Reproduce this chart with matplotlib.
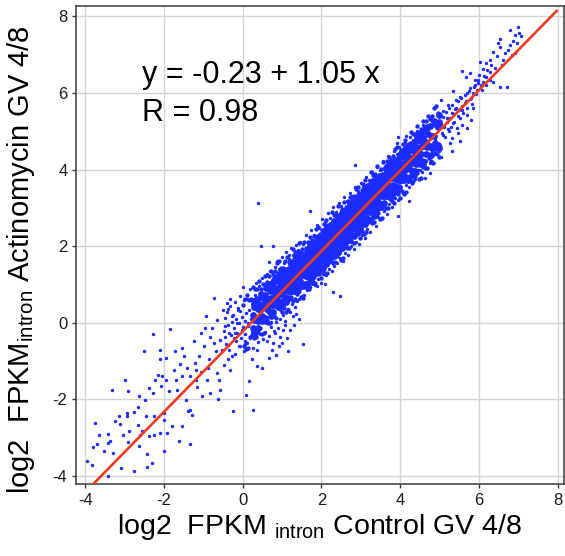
import matplotlib
matplotlib.use("Agg")
import matplotlib.pyplot as plt
import numpy as np

# ---- data ----

# sparse lower tail
tail_x = [-3.96,-3.83,-3.75,-3.66,-3.81,-3.70,-3.42,-3.41,-3.36,-3.51,
	-3.30,-3.32,-3.41,-3.09,-3.24,-3.11,-3.14,-2.94,-2.93,-2.98,
	-2.92,-3.03,-2.92,-2.88,-2.77,-2.75,-2.63,-2.65,-2.65,-2.60,
	-2.62,-2.55,-2.50,-2.46,-2.48,-2.42,-2.44,-2.39,-2.37,-2.31,
	-2.27,-2.28,-2.25,-2.26,-2.22,-2.14,-2.09,-2.09,-2.07,-2.04,
	-2.10,-1.99,-2.00,-1.99,-1.95,-1.95,-1.92,-1.84,-1.87,-1.80,
	-1.75,-1.72,-1.70,-1.61,-1.66,-1.58,-1.55,-1.53,-1.53,-1.50,
	-1.45,-1.41,-1.38,-1.34,-1.33,-1.33,-1.29,-1.24,-1.22,-1.19,
	-1.19,-1.16,-1.12,-1.07,-1.06,-1.02,-0.99,-0.95,-0.94,-0.90,
	-0.87,-0.85,-0.82,-0.82,-0.79,-0.73,-0.72,-0.68,-0.65,-0.65,
	-0.62,-0.60,-0.58,-0.57,-0.53,-0.51,-0.48,-0.45,-0.40,-0.38,
	-0.36,-0.34,-0.31,-0.28,-0.24,-0.21,-0.19,-0.14,-0.11,-0.06,
	-0.02,0.03,0.06,0.08,0.15,0.27,0.36,0.48,0.74,0.99,
	0.82,1.03]
tail_y = [-3.62,-3.71,-2.62,-2.92,-3.25,-3.18,-2.90,-3.14,-3.09,-3.36,
	-3.40,-1.77,-4.01,-3.79,-2.57,-2.64,-2.44,-2.36,-2.44,-1.49,
	-1.79,-2.92,-3.12,-2.84,-2.34,-3.88,-1.92,-2.20,-2.66,-2.92,
	-3.23,-2.84,-0.73,-2.43,-2.01,-3.44,-3.77,-1.70,-2.97,-3.66,
	-0.29,-1.83,-2.44,-2.93,-1.49,-1.36,-0.70,-0.96,-1.66,-1.40,
	-2.88,-3.36,-2.36,-2.53,-0.93,-1.49,-2.88,-0.16,-1.79,-2.70,
	-1.23,-0.75,-1.49,-3.10,-1.75,-1.09,-1.40,-0.66,-2.70,-0.88,
	-2.03,-1.18,-2.31,-3.18,-1.40,-2.27,-2.40,-0.49,-1.05,-1.24,
	-1.49,-1.68,-0.88,-0.27,-1.28,-1.92,-0.62,-0.14,0.17,-1.49,
	-1.18,-0.96,-0.37,-1.83,-0.15,0.65,-0.53,-0.75,0.08,-1.31,
	-1.99,-1.49,-1.75,-0.44,-0.70,0.34,-1.10,-0.09,0.52,-0.58,
	-0.96,-0.27,-1.23,0.17,-2.31,-0.40,-0.83,0.00,0.34,-0.62,
	-0.18,0.60,-0.49,-1.89,-1.53,-2.27,-1.14,-1.18,-0.70,-0.53,
	-0.27,-0.18]

# scattered points around the band
halo_pts = [
	(-0.48,-0.21),(-0.45,0.12),(-0.42,-0.55),(-0.40,0.28),(-0.37,-0.05),(-0.35,-0.71),(-0.33,0.44),
	(-0.30,-0.33),(-0.28,0.02),(-0.26,-0.88),(-0.24,0.21),(-0.22,-0.15),(-0.20,0.55),(-0.18,-0.47),
	(-0.16,0.09),(-0.14,-0.26),(-0.12,0.38),(-0.10,-0.62),(-0.08,-0.02),(-0.06,0.71),(-0.04,-0.39),
	(-0.02,0.15),(0.00,-0.12),(0.02,0.46),(0.04,-0.75),(0.05,0.05),(0.07,-0.30),(0.09,0.26),
	(0.11,-0.52),(0.12,0.62),(0.14,-0.08),(0.16,0.33),(0.18,-0.41),(0.19,0.88),(0.21,0.11),
	(0.23,-0.23),(0.25,0.49),(0.27,-0.66),(0.29,0.18),(0.31,0.72),(-0.46,-0.38),(-0.31,0.61),
	(-0.19,-0.27),(-0.07,0.30),(0.06,-0.55),(0.13,0.00),(0.24,-0.94),(0.33,-0.35),(-0.38,0.36),(0.01,0.92),
	(0.34,1.05),(0.38,-0.51),(0.42,0.95),(0.45,-0.30),(0.48,1.18),(0.52,-0.42),(0.55,1.02),
	(0.58,-0.24),(0.61,1.27),(0.63,0.88),(0.66,-0.35),(0.69,1.36),(0.72,-0.11),(0.75,1.12),
	(0.78,-0.52),(0.81,1.45),(0.84,0.02),(0.87,1.61),(0.90,-0.13),(0.93,1.40),(0.96,0.09),
	(0.99,1.72),(1.02,0.21),(1.05,1.55),(1.08,-0.05),(1.11,1.84),(1.14,0.36),(1.17,1.66),
	(1.20,0.27),(1.23,1.95),(1.26,0.48),(1.29,1.78),(1.32,0.40),(1.35,2.03),(1.38,0.57),
	(1.41,1.90),(1.44,0.62),(1.47,2.12),(1.50,0.71),(0.44,0.62),(0.57,0.72),(0.71,0.02),
	(0.88,0.38),(1.04,1.30),(1.19,1.78),(1.33,1.72),(0.36,-0.72),(0.67,1.58),(0.95,-0.36),(1.27,0.18),
	(1.53,2.05),(1.56,0.72),(1.60,2.30),(1.63,0.85),(1.67,2.12),(1.70,0.93),(1.74,2.41),(1.77,1.02),
	(1.81,2.28),(1.84,0.98),(1.88,2.55),(1.91,1.15),(1.95,2.47),(1.98,1.05),(2.02,2.72),(2.05,1.28),
	(2.09,2.63),(2.12,1.25),(2.16,2.86),(2.19,1.40),(2.23,2.74),(2.26,1.35),(2.30,3.02),(2.33,1.48),
	(2.37,2.88),(2.40,1.55),(2.44,3.12),(2.47,1.70),(2.51,3.05),(2.54,1.62),(2.58,3.28),(2.61,1.83),
	(2.65,3.18),(2.68,1.78),(2.72,3.40),(2.75,2.01),(2.79,3.31),(2.82,1.92),(2.86,3.55),(2.89,2.12),
	(2.93,3.44),(2.96,2.05),(3.00,3.66),(3.03,2.30),(3.07,3.55),(3.10,2.20),(3.14,3.80),(3.17,2.45),
	(3.21,3.72),(3.24,2.38),(3.28,3.95),(3.31,2.60),(3.35,3.85),(3.38,2.52),(3.42,4.08),(3.45,2.75),
	(3.49,3.98),(3.52,2.70),(3.56,4.22),(3.59,2.93),(3.63,4.12),(3.66,2.85),(3.70,4.35),(3.73,3.10),
	(3.77,4.26),(3.80,3.02),(3.84,4.48),(3.87,3.26),(3.91,4.40),(3.94,3.20),(3.98,4.60),(4.01,3.43),
	(4.05,4.52),(4.08,3.38),(4.12,4.72),(4.15,3.60),(4.19,4.66),(4.22,3.55),(4.26,4.86),(4.30,3.80),
	(4.34,4.78),(4.38,3.75),(4.42,4.98),(4.46,4.00),(4.50,4.93),(4.55,3.95),(4.60,5.12),(4.65,4.22),
	(4.70,5.05),(4.75,4.18),(4.80,5.28),(4.85,4.40),(4.92,5.20),(4.98,4.48),
	(0.40,3.14),(0.46,2.00),(0.76,2.00),(1.71,2.93),(2.85,4.11),(3.94,4.84),(4.22,3.17),(3.94,2.78),
	(1.525,-0.55),(1.16,-0.75),(0.68,-0.93),(2.48,0.69),(2.30,0.81),(0.62,-0.48),(0.79,-0.21),
	(0.93,-0.62),(1.07,0.05),(1.21,-0.18),(1.35,0.22),(1.12,-0.40),(0.85,-0.85),(1.42,0.10),
	(1.30,-0.05),(1.90,0.95),(2.10,1.00),
]

# points on both edges of the dense band
shoulder_pts = [
	(0.02,0.46),(0.07,0.62),(0.04,-0.60),(0.09,-0.69),
	(0.12,0.73),(0.17,0.60),(0.14,-0.65),(0.19,-0.37),
	(0.22,0.62),(0.27,0.94),(0.24,-0.32),(0.29,-0.40),
	(0.32,0.87),(0.37,0.88),(0.34,-0.37),(0.39,-0.23),
	(0.42,1.09),(0.47,0.87),(0.44,-0.14),(0.49,-0.30),
	(0.52,1.02),(0.57,1.21),(0.54,-0.27),(0.59,0.03),
	(0.62,1.06),(0.67,1.22),(0.64,0.00),(0.69,-0.01),
	(0.72,1.34),(0.77,1.26),(0.74,0.24),(0.79,0.17),
	(0.82,1.36),(0.87,1.55),(0.84,0.13),(0.89,0.38),
	(0.92,1.60),(0.97,1.42),(0.94,0.37),(0.99,0.27),
	(1.02,1.44),(1.07,1.60),(1.04,0.38),(1.09,0.29),
	(1.12,1.71),(1.17,1.58),(1.14,0.34),(1.19,0.62),
	(1.22,1.60),(1.27,1.92),(1.24,0.66),(1.29,0.58),
	(1.32,1.85),(1.37,1.86),(1.34,0.62),(1.39,0.76),
	(1.42,2.07),(1.47,1.85),(1.44,0.84),(1.49,0.68),
	(1.52,1.92),(1.57,2.11),(1.54,0.64),(1.59,0.93),
	(1.62,1.96),(1.67,2.12),(1.64,0.90),(1.69,0.89),
	(1.72,2.24),(1.77,2.16),(1.74,1.14),(1.79,1.07),
	(1.82,2.26),(1.87,2.45),(1.84,1.03),(1.89,1.28),
	(1.92,2.50),(1.97,2.32),(1.94,1.27),(1.99,1.17),
	(2.02,2.41),(2.07,2.57),(2.04,1.35),(2.09,1.26),
	(2.12,2.68),(2.17,2.55),(2.14,1.31),(2.19,1.59),
	(2.22,2.57),(2.27,2.89),(2.24,1.63),(2.29,1.55),
	(2.32,2.82),(2.37,2.83),(2.34,1.59),(2.39,1.73),
	(2.42,3.04),(2.47,2.82),(2.44,1.81),(2.49,1.65),
	(2.52,2.97),(2.57,3.16),(2.54,1.69),(2.59,1.98),
	(2.62,3.01),(2.67,3.17),(2.64,1.95),(2.69,1.94),
	(2.72,3.29),(2.77,3.21),(2.74,2.19),(2.79,2.12),
	(2.82,3.31),(2.87,3.50),(2.84,2.08),(2.89,2.33),
	(2.92,3.55),(2.97,3.37),(2.94,2.32),(2.99,2.22),
	(3.02,3.46),(3.07,3.62),(3.04,2.40),(3.09,2.31),
	(3.12,3.73),(3.17,3.60),(3.14,2.36),(3.19,2.64),
	(3.22,3.62),(3.27,3.94),(3.24,2.68),(3.29,2.60),
	(3.32,3.87),(3.37,3.88),(3.34,2.64),(3.39,2.78),
	(3.42,4.09),(3.47,3.87),(3.44,2.86),(3.49,2.70),
	(3.52,4.02),(3.57,4.21),(3.54,2.74),(3.59,3.03),
	(3.62,4.06),(3.67,4.22),(3.64,3.00),(3.69,2.99),
	(3.72,4.34),(3.77,4.26),(3.74,3.24),(3.79,3.17),
	(3.82,4.36),(3.87,4.55),(3.84,3.13),(3.89,3.38),
	(3.92,4.60),(3.97,4.42),(3.94,3.37),(3.99,3.27),
	(4.02,4.51),(4.07,4.67),(4.04,3.45),(4.09,3.36),
	(4.12,4.78),(4.17,4.65),(4.14,3.41),(4.19,3.69),
	(4.22,4.67),(4.27,4.99),(4.24,3.73),(4.29,3.65),
	(4.32,4.92),(4.37,4.93),(4.34,3.69),(4.39,3.83),
	(4.42,5.14),(4.47,4.92),(4.44,3.91),(4.49,3.75),
	(4.52,5.07),(4.57,5.26),(4.54,3.79),(4.59,4.08),
	(4.62,5.11),(4.67,5.27),(4.64,4.05),(4.69,4.04),
	(4.72,5.39),(4.77,5.31),(4.74,4.29),(4.79,4.22),
	(4.82,5.41),(4.87,5.60),(4.84,4.18),(4.89,4.43),
	(4.92,5.65),(4.97,5.47),(4.94,4.42),(4.99,4.32),
]

# dense core of the cloud, one row per narrow x slice
core_x = [
	0.26,0.27,0.28,0.29,0.30,0.31,
	0.36,0.37,0.38,0.39,0.40,0.41,
	0.46,0.47,0.48,0.49,0.50,0.51,
	0.56,0.57,0.58,0.59,0.60,0.61,
	0.66,0.67,0.68,0.69,0.70,0.71,0.72,0.73,0.74,
	0.76,0.77,0.78,0.79,0.80,0.81,0.82,0.83,0.84,
	0.86,0.87,0.88,0.89,0.90,0.91,0.92,0.93,0.94,
	0.96,0.97,0.98,0.99,1.00,1.01,1.02,1.03,1.04,
	1.06,1.07,1.08,1.09,1.10,1.11,1.12,1.13,1.14,1.15,1.055,1.075,
	1.16,1.17,1.18,1.19,1.20,1.21,1.22,1.23,1.24,1.25,1.155,1.175,
	1.26,1.27,1.28,1.29,1.30,1.31,1.32,1.33,1.34,1.35,1.255,1.275,
	1.36,1.37,1.38,1.39,1.40,1.41,1.42,1.43,1.44,1.45,1.355,1.375,
	1.46,1.47,1.48,1.49,1.50,1.51,1.52,1.53,1.54,1.55,1.455,1.475,
	1.56,1.57,1.58,1.59,1.60,1.61,1.62,1.63,1.64,1.65,1.555,1.575,1.595,1.615,1.625,1.635,
	1.66,1.67,1.68,1.69,1.70,1.71,1.72,1.73,1.74,1.75,1.655,1.675,1.695,1.715,1.725,1.735,
	1.76,1.77,1.78,1.79,1.80,1.81,1.82,1.83,1.84,1.85,1.755,1.775,1.795,1.815,1.825,1.835,
	1.86,1.87,1.88,1.89,1.90,1.91,1.92,1.93,1.94,1.95,1.855,1.875,1.895,1.915,1.925,1.935,
	1.96,1.97,1.98,1.99,2.00,2.01,2.02,2.03,2.04,2.05,1.955,1.975,1.995,2.015,2.025,2.035,
	2.06,2.07,2.08,2.09,2.10,2.11,2.12,2.13,2.14,2.15,2.055,2.075,2.095,2.115,2.125,2.135,
	2.16,2.17,2.18,2.19,2.20,2.21,2.22,2.23,2.24,2.25,2.155,2.175,2.195,2.215,2.225,2.235,
	2.26,2.27,2.28,2.29,2.30,2.31,2.32,2.33,2.34,2.35,2.255,2.275,2.295,2.315,2.325,2.335,
	2.36,2.37,2.38,2.39,2.40,2.41,2.42,2.43,2.44,2.45,2.355,2.375,2.395,2.415,2.425,2.435,
	2.46,2.47,2.48,2.49,2.50,2.51,2.52,2.53,2.54,2.55,2.455,2.475,2.495,2.515,2.525,2.535,
	2.56,2.57,2.58,2.59,2.60,2.61,2.62,2.63,2.64,2.65,2.555,2.575,2.595,2.615,2.625,2.635,
	2.66,2.67,2.68,2.69,2.70,2.71,2.72,2.73,2.74,2.75,2.655,2.675,2.695,2.715,2.725,2.735,
	2.76,2.77,2.78,2.79,2.80,2.81,2.82,2.83,2.84,2.85,2.755,2.775,2.795,2.815,2.825,2.835,
	2.86,2.87,2.88,2.89,2.90,2.91,2.92,2.93,2.94,2.95,2.855,2.875,2.895,2.915,2.925,2.935,
	2.96,2.97,2.98,2.99,3.00,3.01,3.02,3.03,3.04,3.05,2.955,2.975,2.995,3.015,3.025,3.035,
	3.06,3.07,3.08,3.09,3.10,3.11,3.12,3.13,3.14,3.15,3.055,3.075,3.095,3.115,3.125,3.135,
	3.16,3.17,3.18,3.19,3.20,3.21,3.22,3.23,3.24,3.25,3.155,3.175,3.195,3.215,3.225,3.235,
	3.26,3.27,3.28,3.29,3.30,3.31,3.32,3.33,3.34,3.35,3.255,3.275,3.295,3.315,3.325,3.335,
	3.36,3.37,3.38,3.39,3.40,3.41,3.42,3.43,3.44,3.45,3.355,3.375,3.395,3.415,3.425,3.435,
	3.46,3.47,3.48,3.49,3.50,3.51,3.52,3.53,3.54,3.55,3.455,3.475,
	3.56,3.57,3.58,3.59,3.60,3.61,3.62,3.63,3.64,3.65,3.555,3.575,
	3.66,3.67,3.68,3.69,3.70,3.71,3.72,3.73,3.74,3.75,3.655,3.675,
	3.76,3.77,3.78,3.79,3.80,3.81,3.82,3.83,3.84,3.85,3.755,3.775,
	3.86,3.87,3.88,3.89,3.90,3.91,3.92,3.93,3.94,3.95,3.855,3.875,
	3.96,3.97,3.98,3.99,4.00,4.01,4.02,4.03,4.04,4.05,3.955,3.975,
	4.06,4.07,4.08,4.09,4.10,4.11,4.12,4.13,
	4.16,4.17,4.18,4.19,4.20,4.21,4.22,4.23,
	4.26,4.27,4.28,4.29,4.30,4.31,4.32,4.33,
	4.36,4.37,4.38,4.39,4.40,4.41,4.42,4.43,
	4.46,4.47,4.48,4.49,4.50,4.51,4.52,4.53,
	4.56,4.57,4.58,4.59,4.60,
	4.66,4.67,4.68,4.69,4.70,
	4.76,4.77,4.78,4.79,4.80,
	4.86,4.87,4.88,4.89,4.90,
	4.96,4.97,4.98,4.99,5.00,
]
core_y = [
	0.21,-0.13,0.58,0.08,0.41,-0.26,
	0.10,0.61,-0.14,0.37,0.05,0.48,
	0.74,0.37,0.17,0.66,0.04,0.49,
	0.13,0.59,0.72,0.05,0.90,0.35,
	0.63,0.30,1.00,0.50,0.83,0.17,0.65,0.95,0.46,
	0.52,1.03,0.28,0.79,0.47,0.90,0.68,1.17,0.76,
	1.16,0.79,0.59,1.08,0.46,0.91,1.28,0.73,1.06,
	0.55,1.01,1.14,0.47,1.32,0.77,1.24,0.93,0.59,
	1.00,0.67,1.37,0.87,1.20,0.54,1.02,1.32,0.83,1.16,0.55,1.12,
	0.89,1.40,0.65,1.16,0.84,1.27,1.05,1.54,1.13,0.83,1.29,0.98,
	1.53,1.16,0.96,1.45,0.83,1.28,1.65,1.10,1.43,0.82,1.07,1.30,
	0.92,1.38,1.51,0.84,1.69,1.14,1.61,1.30,0.96,1.55,1.71,1.05,
	1.42,1.09,1.79,1.29,1.62,0.96,1.44,1.74,1.25,1.58,0.97,1.54,
	1.26,1.77,1.02,1.53,1.21,1.64,1.42,1.91,1.50,1.20,1.66,1.35,1.74,1.29,1.59,1.01,
	1.90,1.53,1.33,1.82,1.20,1.65,2.02,1.47,1.80,1.19,1.44,1.67,1.28,1.90,1.12,1.63,
	1.29,1.75,1.88,1.21,2.06,1.51,1.98,1.67,1.33,1.92,2.08,1.42,1.73,1.59,2.05,1.44,
	1.79,1.46,2.16,1.66,1.99,1.33,1.81,2.11,1.62,1.95,1.34,1.91,1.73,2.25,1.65,1.47,
	1.68,2.19,1.44,1.95,1.63,2.06,1.84,2.33,1.92,1.62,2.08,1.77,2.16,1.71,2.01,1.43,
	2.32,1.95,1.75,2.24,1.62,2.07,2.44,1.89,2.22,1.61,1.86,2.09,1.70,2.32,1.54,2.05,
	1.71,2.17,2.30,1.63,2.48,1.93,2.40,2.09,1.75,2.34,2.50,1.84,2.15,2.01,2.47,1.86,
	2.21,1.88,2.58,2.08,2.41,1.75,2.23,2.53,2.04,2.37,1.76,2.33,2.15,2.67,2.07,1.89,
	2.10,2.61,1.86,2.37,2.05,2.48,2.26,2.75,2.34,2.04,2.50,2.19,2.58,2.13,2.43,1.85,
	2.74,2.37,2.17,2.66,2.04,2.49,2.86,2.31,2.64,2.03,2.28,2.51,2.12,2.74,1.96,2.47,
	2.13,2.59,2.72,2.05,2.90,2.35,2.82,2.51,2.17,2.76,2.92,2.26,2.57,2.43,2.89,2.28,
	2.63,2.30,3.00,2.50,2.83,2.17,2.65,2.95,2.46,2.79,2.18,2.75,2.57,3.09,2.49,2.31,
	2.52,3.03,2.28,2.79,2.47,2.90,2.68,3.17,2.76,2.46,2.92,2.61,3.00,2.55,2.85,2.27,
	3.16,2.79,2.59,3.08,2.46,2.91,3.28,2.73,3.06,2.45,2.70,2.93,2.54,3.16,2.38,2.89,
	2.55,3.01,3.14,2.47,3.32,2.77,3.24,2.93,2.59,3.18,3.34,2.68,2.99,2.85,3.31,2.70,
	3.05,2.72,3.42,2.92,3.25,2.59,3.07,3.37,2.88,3.21,2.60,3.17,2.99,3.51,2.91,2.73,
	2.94,3.45,2.70,3.21,2.89,3.32,3.10,3.59,3.18,2.88,3.34,3.03,3.42,2.97,3.27,2.69,
	3.58,3.21,3.01,3.50,2.88,3.33,3.70,3.15,3.48,2.87,3.12,3.35,2.96,3.58,2.80,3.31,
	2.97,3.43,3.56,2.89,3.74,3.19,3.66,3.35,3.01,3.60,3.76,3.10,3.41,3.27,3.73,3.12,
	3.47,3.14,3.84,3.34,3.67,3.01,3.49,3.79,3.30,3.63,3.02,3.59,
	3.36,3.87,3.12,3.63,3.31,3.74,3.52,4.01,3.60,3.30,3.76,3.45,
	4.00,3.63,3.43,3.92,3.30,3.75,4.12,3.57,3.90,3.29,3.54,3.77,
	3.39,3.85,3.98,3.31,4.16,3.61,4.08,3.77,3.43,4.02,4.18,3.52,
	3.89,3.56,4.26,3.76,4.09,3.43,3.91,4.21,3.72,4.05,3.44,4.01,
	3.78,4.29,3.54,4.05,3.73,4.16,3.94,4.43,4.02,3.72,4.18,3.87,
	4.42,4.05,3.85,4.34,3.72,4.17,4.54,3.99,
	3.81,4.27,4.40,3.73,4.58,4.03,4.50,4.19,
	4.31,3.98,4.68,4.18,4.51,3.85,4.33,4.63,
	4.20,4.71,3.96,4.47,4.15,4.58,4.36,4.85,
	4.84,4.47,4.27,4.76,4.14,4.59,4.96,4.41,
	4.23,4.69,4.82,4.15,5.00,
	4.73,4.40,5.10,4.60,4.93,
	4.62,5.13,4.38,4.89,4.57,
	5.26,4.89,4.69,5.18,4.56,
	4.65,5.11,5.24,4.57,5.42,
]

# upper end of the cloud
top_pts = [
	(7.00,7.72),(6.79,7.65),(7.02,7.58),(6.91,7.52),(7.08,7.48),(6.53,7.41),(6.87,7.35),(6.96,7.30),
	(6.49,7.30),(6.79,7.26),(6.74,7.13),(6.53,7.20),(6.66,7.04),(6.91,7.04),(6.83,7.00),(6.36,7.06),
	(6.45,6.96),(6.28,6.87),(6.62,6.87),(6.03,6.80),(6.19,6.78),(6.32,6.74),(6.58,6.74),(6.11,6.63),
	(5.56,6.58),(6.28,6.54),(5.77,6.52),(6.01,6.48),(6.19,6.43),(5.67,6.42),(5.90,6.35),(6.36,6.30),
	(6.11,6.30),(5.98,6.26),(6.53,6.16),(6.72,6.16),(6.19,6.22),(6.28,6.33),(5.90,6.22),(5.77,6.13),
	(5.35,6.06),(5.96,6.09),(6.07,6.09),(5.69,6.00),(5.86,6.00),(5.52,5.89),(5.77,5.84),(5.43,5.83),
	(5.05,5.81),(5.64,5.74),(5.22,5.69),(5.86,5.61),(4.88,5.63),(5.39,5.58),(5.56,5.56),(5.09,5.52),
	(5.31,5.48),(5.48,5.41),(5.70,5.43),(5.18,5.35),(5.81,5.30),(4.80,5.30),(5.01,5.26),(5.35,5.22),
	(4.59,5.17),(5.56,5.17),(5.70,5.08),(4.93,5.11),(5.22,5.06),(4.42,5.00),(4.71,4.97),(5.48,4.95),
	(5.10,4.91),(4.16,4.87),(5.31,4.82),(4.54,4.82),(4.88,4.80),(5.52,4.74),(5.26,4.69),(4.25,4.65),
	(5.01,4.61),(3.91,4.69),(4.59,4.56),(4.08,4.52),(4.80,4.48),(5.31,4.48),(4.38,4.43),(5.05,4.34),
	(4.63,4.26),(3.83,4.21),(4.84,4.17),(4.16,4.13),(4.50,4.00),(4.76,3.91),(4.63,3.78),(4.25,3.74),
	(5.03,5.20),(5.06,4.95),(5.08,5.38),(5.12,5.10),(5.14,4.85),(5.17,5.50),(5.20,5.25),(5.23,5.02),
	(5.25,5.60),(5.28,5.36),(5.30,5.12),(5.33,5.70),(5.36,5.45),(5.38,5.25),(5.41,5.62),(5.44,5.08),
	(5.46,5.78),(5.49,5.55),(5.52,5.35),(5.55,5.88),(5.58,5.66),(5.61,5.48),(5.64,5.95),(5.67,5.78),
	(5.71,5.60),(5.75,6.05),(5.79,5.88),(5.83,5.72),(5.88,6.15),(5.93,5.98),(5.97,6.35),(6.05,6.20),
	(6.12,6.45),(6.22,6.60),(6.40,6.65),
]

# fitted line shown on the chart
fit_intercept = -0.23
fit_slope = 1.05
fit_range = [-3.8, 8.0]
fit_text = ["y = -0.23 + 1.05 x", "R = 0.98"]

ticks = [-4, -2, 0, 2, 4, 6, 8]
x_label = r"log2  FPKM $_{\mathrm{intron}}$ Control GV 4/8"
y_label = r"log2  FPKM$_{\mathrm{intron}}$ Actinomycin GV 4/8"

# ---- plotting ----

plt.rcParams['font.family'] = ['Liberation Sans', 'DejaVu Sans']
plt.rcParams['mathtext.fontset'] = 'custom'
plt.rcParams['mathtext.rm'] = 'Liberation Sans'
plt.rcParams['mathtext.it'] = 'Liberation Sans:italic'

fig = plt.figure(figsize=(5.65, 5.56), dpi=100)
ax = fig.add_axes([0.134, 0.129, 0.864, 0.860])

ax.set_xlim(-4.24, 8.16)
ax.set_ylim(-4.22, 8.27)
ax.set_xticks(ticks)
ax.set_yticks(ticks)
ax.set_xticklabels([str(t) for t in ticks])
ax.set_yticklabels([str(t) for t in ticks])
ax.grid(color="#d4d4d4", linewidth=1.0)
ax.set_axisbelow(True)

dot_color = "#1c2bff"
halo_x, halo_y = zip(*halo_pts)
top_x, top_y = zip(*top_pts)
sh_x, sh_y = zip(*shoulder_pts)
ax.scatter(core_x, core_y, s=24, color=dot_color, linewidths=0, zorder=2)
ax.scatter(sh_x, sh_y, s=10, color=dot_color, linewidths=0, zorder=2)
for xs, ys in [(tail_x, tail_y), (halo_x, halo_y), (top_x, top_y)]:
	ax.scatter(xs, ys, s=6, color=dot_color, linewidths=0, zorder=2)

fx = np.array(fit_range)
ax.plot(fx, fit_intercept + fit_slope*fx, color="#f03a1a", linewidth=1.9,
	solid_capstyle="butt", zorder=3)

ax.text(-2.55, 6.27, fit_text[0], fontsize=22, color="black")
ax.text(-2.55, 5.28, fit_text[1], fontsize=22, color="black")

for side in ["left", "bottom", "top", "right"]:
	ax.spines[side].set_color("#3a3a3a")
	ax.spines[side].set_linewidth(1.1)
ax.tick_params(axis="both", which="major", length=3, width=1.0, color="#3a3a3a",
	labelsize=12, labelcolor="#1a1a1a", pad=3)

ax.set_xlabel(x_label, fontsize=20.5, labelpad=3)
ax.set_ylabel(y_label, fontsize=21)
ax.yaxis.set_label_coords(-0.08, 0.47)

fig.savefig("out.png", dpi=100)
plt.close("all")
